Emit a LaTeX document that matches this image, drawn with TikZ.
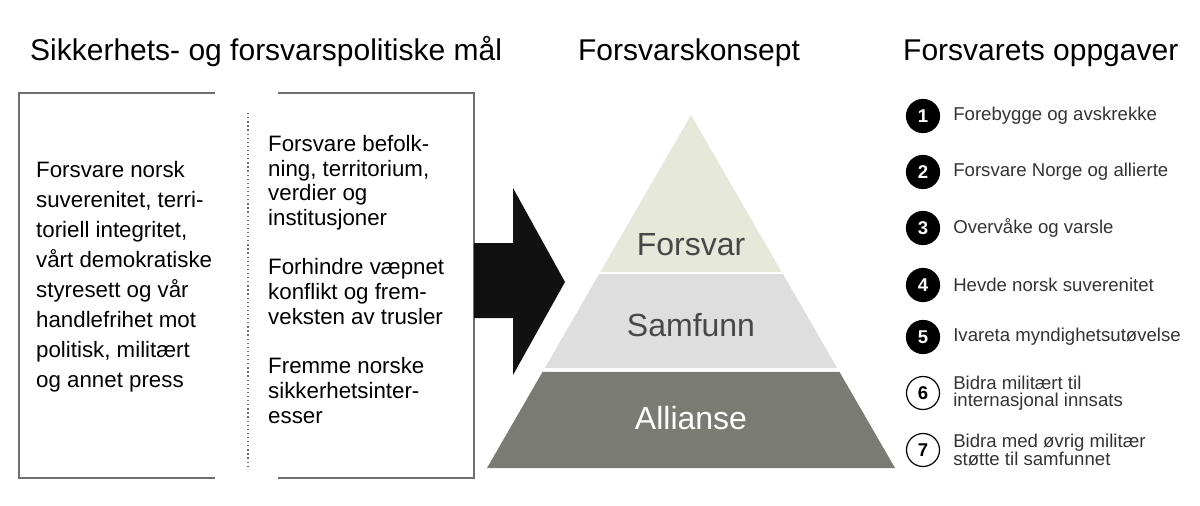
\documentclass[tikz,border=0pt]{standalone}
\usepackage{fontspec}
\setmainfont{Liberation Sans}
\usepackage{tikz}
\usetikzlibrary{positioning,calc}
\definecolor{forsvarc}{HTML}{E6E8D9}
\definecolor{samfunnc}{HTML}{DEDEDE}
\definecolor{alliansec}{HTML}{7A7B72}
\definecolor{lvltxt}{HTML}{474747}
\definecolor{tasktxt}{HTML}{333333}
\definecolor{framec}{HTML}{6E6E6E}
\definecolor{arrc}{HTML}{111111}
\begin{document}
\begin{tikzpicture}[x=1pt, y=-1pt, %
    hdr/.style={anchor=base west, inner sep=0pt, font=\fontsize{30}{36}\selectfont},
    txt/.style={anchor=north west, inner sep=0pt, align=left, font=\fontsize{22.3}{30}\selectfont},
    frame/.style={draw=framec, line width=1.2pt},
    lvl/.style={inner sep=0pt, text=lvltxt, font=\fontsize{32}{38}\selectfont},
    num/.style={circle, draw=black, line width=1.2pt, minimum size=33pt, inner sep=0pt,
      font=\fontsize{18.5}{20}\selectfont\bfseries},
    task/.style={right=13pt of #1, inner sep=0pt, align=left, text=tasktxt,
      font=\fontsize{18.6}{17.5}\selectfont}
  ]
  \useasboundingbox (0,0) rectangle (1200,506);

  % headings
  \node[hdr] (goalhd) at (30,60) {Sikkerhets- og forsvarspolitiske mål};
  \node[hdr, anchor=base] (conhd) at (689,60) {Forsvarskonsept};
  \node[hdr] (taskhd) at (903,60) {Forsvarets oppgaver};

  % goals
  \draw[frame] (215,93) -- (19,93) -- (19,478) -- (215,478);
  \draw[frame] (278,93) -- (474,93) -- (474,478) -- (278,478);
  \draw[framec, line width=1.3pt, dash pattern=on 1.3pt off 2.8pt] (248,113) -- (248,467);
  \node[txt] (goal) at (36,161) {Forsvare norsk\\ suverenitet, terri-\\ toriell integritet,\\
    vårt demokratiske\\ styresett og vår\\ handlefrihet mot\\ politisk, militært\\ og annet press};
  \node[txt, font=\fontsize{22.3}{24.7}\selectfont] (aims) at (268,135) {Forsvare befolk-\\
    ning, territorium,\\ verdier og\\ institusjoner\\[24.7pt] Forhindre væpnet\\
    konflikt og frem-\\ veksten av trusler\\[24.7pt] Fremme norske\\ sikkerhetsinter-\\ esser};

  % arrow
  \fill[arrc] (474,243) -- (513,243) -- (513,188) -- (565,282) -- (513,375)
    -- (513,318) -- (474,318) -- cycle;

  % pyramid
  \coordinate (top) at (691,115);
  \coordinate (bl) at (487,468);
  \coordinate (br) at (895,468);
  \fill[forsvarc] (top) -- ($(top)!0.445!(bl)$) -- ($(top)!0.445!(br)$) -- cycle;
  \fill[samfunnc] ($(top)!0.451!(bl)$) -- ($(top)!0.717!(bl)$) -- ($(top)!0.717!(br)$)
    -- ($(top)!0.451!(br)$) -- cycle;
  \fill[alliansec] ($(top)!0.728!(bl)$) -- (bl) -- (br) -- ($(top)!0.728!(br)$) -- cycle;
  \node[lvl] (forsvar) at (691,245) {Forsvar};
  \node[lvl] (samfunn) at (691,325) {Samfunn};
  \node[lvl, text=white] (allianse) at (691,418) {Allianse};

  % tasks
  \foreach \n/\y/\f/\c/\t in {1/116/black/white/Forebygge og avskrekke,
      2/172/black/white/Forsvare Norge og allierte,
      3/228/black/white/Overvåke og varsle,
      4/285/black/white/Hevde norsk suverenitet,
      5/337/black/white/Ivareta myndighetsutøvelse,
      6/393/white/black/Bidra militært til\\ internasjonal innsats,
      7/450/white/black/Bidra med øvrig militær\\ støtte til samfunnet}{
    \node[num, fill=\f, text=\c] (c\n) at (923,\y) {\n};
    \node[task=c\n] (t\n) {\t};
  }
\end{tikzpicture}
\end{document}
